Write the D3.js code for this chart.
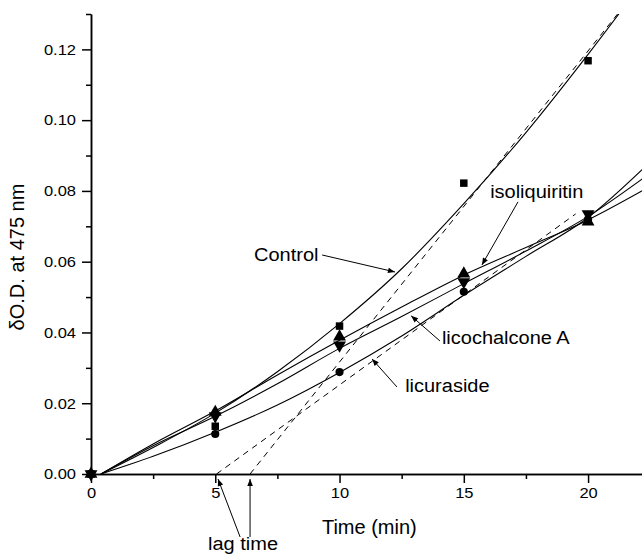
<!DOCTYPE html>
<html>
<head>
<meta charset="utf-8">
<script src="https://cdn.jsdelivr.net/npm/d3@7"></script>
<style>
body { margin: 0; background: #fff; }
svg text { font-family: "Liberation Sans", Arial, sans-serif; fill: #000; }
.axis path, .axis line { stroke: #000; stroke-width: 1.5; }
</style>
</head>
<body>
<div id="chart"></div>
<script>
// measured points (min, dOD)
var times = [0, 5, 10, 15, 20];
var control = [0, 0.0135, 0.0418, 0.0822, 0.1168];
var isoliquiritin = [0, 0.0175, 0.0388, 0.0566, 0.0713];
var licochalconeA = [0, 0.0164, 0.0364, 0.0543, 0.0735];
var licuraside = [0, 0.0113, 0.0288, 0.0515, 0.0720];

// fitted curves
var fitTimes = [0.4, 2.5, 5, 7.5, 10, 12.5, 15, 17.5, 20, 22.2];
var controlFit = [0, 0.0075, 0.0172, 0.0289, 0.0425, 0.0580, 0.0764, 0.0965, 0.1186, 0.1390];
var isoliquiritinFit = [0, 0.0085, 0.0178, 0.0280, 0.0378, 0.0472, 0.0562, 0.0640, 0.0718, 0.0801];
var licochalconeFit = [0, 0.0080, 0.0163, 0.0255, 0.0355, 0.0445, 0.0538, 0.0630, 0.0728, 0.0835];
var licurasideFit = [0, 0.0050, 0.0118, 0.0195, 0.0287, 0.0390, 0.0505, 0.0615, 0.0725, 0.0862];

// lag-time tangents [t, value]
var lagLines = [
  [[5.05, 0], [19.5, 0.0735]],
  [[6.4, 0], [21.3, 0.131]]
];

var xTicks = [0, 5, 10, 15, 20],
    xMinor = [2.5, 7.5, 12.5, 17.5],
    yTicks = [0, 0.02, 0.04, 0.06, 0.08, 0.10, 0.12],
    yMinor = [0.01, 0.03, 0.05, 0.07, 0.09, 0.11, 0.13];

var series = [
  {name: "Control", pts: control, fit: controlFit, shape: "square"},
  {name: "isoliquiritin", pts: isoliquiritin, fit: isoliquiritinFit, shape: "up"},
  {name: "licochalcone A", pts: licochalconeA, fit: licochalconeFit, shape: "down"},
  {name: "licuraside", pts: licuraside, fit: licurasideFit, shape: "circle"}
];

// annotation labels and arrows, in data units
var labels = [
  {text: "Control", t: 6.56, v: 0.0602},
  {text: "isoliquiritin", t: 16.06, v: 0.0780},
  {text: "licochalcone A", t: 14.12, v: 0.0368},
  {text: "licuraside", t: 12.64, v: 0.0232},
  {text: "lag time", t: 4.71, v: -0.0215}
];
var arrows = [
  [[9.3, 0.0619], [12.23, 0.0571]],
  [[17.18, 0.0769], [15.73, 0.0591]],
  [[14.04, 0.0376], [12.88, 0.0447]],
  [[12.31, 0.0246], [11.31, 0.0325]],
  [[6.0, -0.0178], [5.11, -0.0014]],
  [[6.4, -0.0178], [6.4, -0.0014]]
];

var W = 642, H = 554;
var margin = {top: 14, right: 0, bottom: 80, left: 91},
    width = W - margin.left - margin.right,
    height = H - margin.top - margin.bottom;

var svg = d3.select("#chart").append("svg")
    .attr("width", W)
    .attr("height", H);

var defs = svg.append("defs");
defs.append("clipPath").attr("id", "clip")
  .append("rect").attr("width", width).attr("height", height);
defs.append("marker")
    .attr("id", "head")
    .attr("markerUnits", "userSpaceOnUse")
    .attr("viewBox", "0 0 10 10")
    .attr("refX", 10).attr("refY", 5)
    .attr("markerWidth", 9).attr("markerHeight", 7)
    .attr("orient", "auto")
  .append("path").attr("d", "M0,1 L10,5 L0,9 Z").attr("fill", "#000");

var g = svg.append("g")
    .attr("transform", "translate(" + margin.left + "," + margin.top + ")");

var x = d3.scaleLinear().domain([0, 22.17]).range([0, width]);
var y = d3.scaleLinear().domain([0, 0.13]).range([height, 0]);

// stretch text a bit wider, like the original
function stretch(sel, k) {
  sel.each(function() {
    var len = this.getComputedTextLength();
    d3.select(this).attr("textLength", len * k).attr("lengthAdjust", "spacingAndGlyphs");
  });
}

// axes
g.append("g").attr("class", "axis")
    .attr("transform", "translate(0," + height + ")")
    .call(d3.axisBottom(x).tickValues(xMinor).tickSize(5).tickSizeOuter(0).tickFormat(""));
var xa = g.append("g").attr("class", "axis")
    .attr("transform", "translate(0," + height + ")")
    .call(d3.axisBottom(x).tickValues(xTicks).tickSize(9).tickSizeOuter(0).tickPadding(4).tickFormat(d3.format("d")));
g.append("g").attr("class", "axis")
    .call(d3.axisLeft(y).tickValues(yMinor).tickSize(5).tickSizeOuter(0).tickFormat(""));
var ya = g.append("g").attr("class", "axis")
    .call(d3.axisLeft(y).tickValues(yTicks).tickSize(9).tickSizeOuter(0).tickPadding(6).tickFormat(d3.format(".2f")));

xa.selectAll("text").style("font-size", "15px").call(stretch, 1.1);
ya.selectAll("text").style("font-size", "15px").call(stretch, 1.1);
svg.selectAll(".axis text").attr("font-family", null);

g.append("text")
    .attr("x", x(11.2))
    .attr("y", height + 60)
    .attr("text-anchor", "middle")
    .style("font-size", "20px")
    .text("Time (min)");

g.append("text")
    .attr("transform", "translate(-67," + (height / 2 + 13) + ") rotate(-90)")
    .attr("text-anchor", "middle")
    .style("font-size", "20px")
    .text("\u03b4O.D. at 475 nm");

// curves
var plot = g.append("g").attr("clip-path", "url(#clip)");

var line = d3.line()
    .curve(d3.curveMonotoneX)
    .x(function(d) { return x(d[0]); })
    .y(function(d) { return y(d[1]); });

plot.selectAll(".lag")
    .data(lagLines)
  .enter().append("path")
    .attr("class", "lag")
    .attr("d", d3.line().x(function(d) { return x(d[0]); }).y(function(d) { return y(d[1]); }))
    .attr("fill", "none")
    .attr("stroke", "#000")
    .attr("stroke-width", 1)
    .attr("stroke-dasharray", "6,5");

plot.selectAll(".fit")
    .data(series)
  .enter().append("path")
    .attr("class", "fit")
    .attr("d", function(s) {
      return line(fitTimes.map(function(t, i) { return [t, s.fit[i]]; }));
    })
    .attr("fill", "none")
    .attr("stroke", "#000")
    .attr("stroke-width", 1.1);

// markers
var shapes = {
  square: d3.symbol().type(d3.symbolSquare).size(56),
  up: d3.symbol().type(d3.symbolTriangle).size(72),
  down: d3.symbol().type(d3.symbolTriangle).size(72),
  circle: d3.symbol().type(d3.symbolCircle).size(52)
};

series.forEach(function(s) {
  g.append("g").selectAll("path")
      .data(times.map(function(t, i) { return [t, s.pts[i]]; }))
    .enter().append("path")
      .attr("d", shapes[s.shape]())
      .attr("transform", function(d) {
        return "translate(" + x(d[0]) + "," + y(d[1]) + ")" + (s.shape == "down" ? " rotate(180)" : "");
      })
      .attr("fill", "#000");
});

// annotations
g.selectAll(".arrow")
    .data(arrows)
  .enter().append("line")
    .attr("class", "arrow")
    .attr("x1", function(d) { return x(d[0][0]); })
    .attr("y1", function(d) { return y(d[0][1]); })
    .attr("x2", function(d) { return x(d[1][0]); })
    .attr("y2", function(d) { return y(d[1][1]); })
    .attr("stroke", "#000")
    .attr("stroke-width", 1)
    .attr("marker-end", "url(#head)");

g.selectAll(".label")
    .data(labels)
  .enter().append("text")
    .attr("class", "label")
    .attr("x", function(d) { return x(d.t); })
    .attr("y", function(d) { return y(d.v); })
    .style("font-size", "18px")
    .text(function(d) { return d.text; })
    .call(stretch, 1.11);
</script>
</body>
</html>
